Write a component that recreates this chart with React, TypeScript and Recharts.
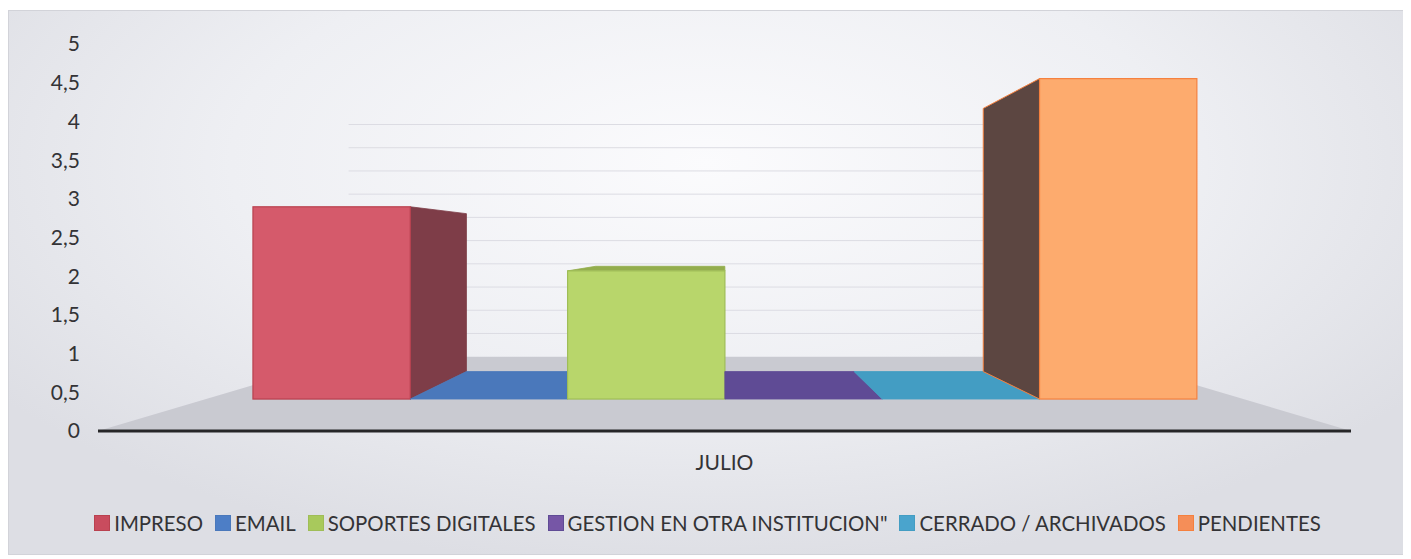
import { BarChart, Bar, XAxis, YAxis, CartesianGrid, Legend, ReferenceArea } from 'recharts';

const CATEGORIES = ['JULIO'];
const SERIES_NAMES = [
    'IMPRESO',
    'EMAIL',
    'SOPORTES DIGITALES',
    'GESTION EN OTRA INSTITUCION"',
    'CERRADO / ARCHIVADOS',
    'PENDIENTES',
];
const VALUES = [3, 0, 2, 0, 0, 5];
const Y_TICKS = [0, 0.5, 1, 1.5, 2, 2.5, 3, 3.5, 4, 4.5, 5];

// front / top / side / edge colours for the 3d blocks
const COLORS = [
    { front: '#d55a6b', top: '#b24a59', side: '#7e3d48', edge: '#b9414f', legend: '#c94c5e' },
    { front: '#4f7fc2', top: '#4a78bb', side: '#3a5f96', edge: '#4a78bb', legend: '#4d7ec6' },
    { front: '#b8d66b', top: '#93ad4d', side: '#8ea846', edge: '#9fbd57', legend: '#a8c95c' },
    { front: '#6a52a0', top: '#5f4b95', side: '#4b3a78', edge: '#5f4b95', legend: '#7656a6' },
    { front: '#47a2c9', top: '#439dc3', side: '#337c9c', edge: '#439dc3', legend: '#4aa4cd' },
    { front: '#fdab6e', top: '#e8955b', side: '#5c4641', edge: '#f5803e', legend: '#f58e58' },
];

const data = CATEGORIES.map((month) => {
    const row: Record<string, string | number> = { month };
    VALUES.forEach((v, i) => {
        row[`s${i}`] = v;
    });
    return row;
});

const W = 1397;
const H = 545;
const MARGIN = { top: 33, right: 55, left: 0, bottom: 51 };
const Y_AXIS_W = 89;
const X_AXIS_H = 50;
const LEGEND_H = 24;

const PLOT_LEFT = MARGIN.left + Y_AXIS_W;
const PLOT_RIGHT = W - MARGIN.right;
const PLOT_BOTTOM = H - MARGIN.bottom - X_AXIS_H - LEGEND_H;
const PLOT_TOP = MARGIN.top;

// simple perspective: points are pulled toward a vanishing point
const VP_X = (PLOT_LEFT + PLOT_RIGHT) / 2;
const VP_Y = PLOT_BOTTOM - 0.48 * (PLOT_BOTTOM - PLOT_TOP);
const T_FRONT = 0.172;
const T_BACK = 0.32;
const T_WALL = 0.4;

const proj = (px: number, py: number, t: number) => [px + t * (VP_X - px), py + t * (VP_Y - py)];
const pts = (list: number[][]) => list.map((p) => `${p[0]},${p[1]}`).join(' ');

function Block(props: any) {
    const { x, y, width, height, colors } = props;
    const L = x;
    const R = x + width;
    const T = Math.min(y, y + height);
    const B = Math.max(y, y + height);

    const fTL = proj(L, T, T_FRONT), fTR = proj(R, T, T_FRONT);
    const fBL = proj(L, B, T_FRONT), fBR = proj(R, B, T_FRONT);
    const bTL = proj(L, T, T_BACK), bTR = proj(R, T, T_BACK);
    const bBL = proj(L, B, T_BACK), bBR = proj(R, B, T_BACK);

    return (
        <g>
            {R < VP_X && B - T > 0 && (
                <polygon points={pts([fTR, bTR, bBR, fBR])} fill={colors.side} stroke={colors.side} strokeWidth={0.8} />
            )}
            {L > VP_X && B - T > 0 && (
                <polygon points={pts([fTL, bTL, bBL, fBL])} fill={colors.side} stroke={colors.edge} strokeWidth={1} />
            )}
            {T > VP_Y && (
                <polygon points={pts([fTL, fTR, bTR, bTL])} fill={colors.top} stroke={colors.top} strokeWidth={0.8} />
            )}
            {B - T > 0 && (
                <rect
                    x={fTL[0]}
                    y={fTL[1]}
                    width={fTR[0] - fTL[0]}
                    height={fBL[1] - fTL[1]}
                    fill={colors.front}
                    stroke={colors.edge}
                    strokeWidth={1.2}
                />
            )}
        </g>
    );
}

function Floor(props: any) {
    const { x, y, width, height } = props;
    const B = y + height;
    const L = x;
    const R = x + width;
    return <polygon points={pts([[L, B], [R, B], proj(R, B, T_WALL), proj(L, B, T_WALL)])} fill="#c9cad1" />;
}

function WallLine(props: any) {
    const { x1, y1, x2, y2 } = props;
    if (y1 >= PLOT_BOTTOM - 1) return null;
    const a = proj(x1, y1, T_WALL);
    const b = proj(x2, y2, T_WALL);
    return <line x1={a[0]} y1={a[1]} x2={b[0]} y2={b[1]} stroke="#dcdce3" strokeWidth={1} />;
}

function LegendContent() {
    return (
        <div
            style={{
                display: 'flex',
                justifyContent: 'center',
                alignItems: 'center',
                height: LEGEND_H,
                fontFamily: 'Lato, sans-serif',
                fontSize: 20.4,
                color: '#333336',
                whiteSpace: 'nowrap',
            }}
        >
            {SERIES_NAMES.map((name, i) => (
                <div key={name} style={{ display: 'flex', alignItems: 'center', marginRight: i < SERIES_NAMES.length - 1 ? 12 : 0 }}>
                    <span
                        style={{
                            width: 14,
                            height: 14,
                            background: COLORS[i].legend,
                            border: `1px solid ${COLORS[i].edge}`,
                            marginRight: 4,
                            display: 'inline-block',
                        }}
                    />
                    <span>{name}</span>
                </div>
            ))}
        </div>
    );
}

export default function App() {
    return (
        <div
            style={{
                width: W,
                height: H,
                marginTop: 2,
                border: '1px solid #d2d3d9',
                boxSizing: 'border-box',
                background: 'radial-gradient(ellipse 62% 75% at 50% 28%, #fbfbfd 0%, #eeeff3 55%, #dddee4 100%)',
            }}
        >
            <BarChart width={W} height={H} data={data} margin={MARGIN} barCategoryGap={57} barGap={0}>
                <CartesianGrid vertical={false} horizontal={(p: any) => <WallLine {...p} />} />
                <ReferenceArea x1="JULIO" x2="JULIO" y1={0} y2={5} shape={(p: any) => <Floor {...p} />} />
                <XAxis
                    dataKey="month"
                    height={X_AXIS_H}
                    axisLine={{ stroke: '#262628', strokeWidth: 3 }}
                    tickLine={false}
                    tickSize={0}
                    tickMargin={24}
                    tick={{ fontFamily: 'Lato, sans-serif', fontSize: 21, fill: '#333336' }}
                />
                <YAxis
                    width={Y_AXIS_W}
                    domain={[0, 5]}
                    ticks={Y_TICKS}
                    axisLine={false}
                    tickLine={false}
                    tickSize={0}
                    tickMargin={18}
                    tickFormatter={(v: number) => String(v).replace('.', ',')}
                    tick={{ fontFamily: 'Lato, sans-serif', fontSize: 21, fill: '#333336' }}
                />
                <Legend
                    verticalAlign="bottom"
                    height={LEGEND_H}
                    wrapperStyle={{ top: 500, left: 0, width: W }}
                    content={() => <LegendContent />}
                />
                {SERIES_NAMES.map((name, i) => (
                    <Bar
                        key={name}
                        dataKey={`s${i}`}
                        name={name}
                        fill={COLORS[i].front}
                        isAnimationActive={false}
                        shape={(p: any) => <Block {...p} colors={COLORS[i]} />}
                    />
                ))}
            </BarChart>
        </div>
    );
}
